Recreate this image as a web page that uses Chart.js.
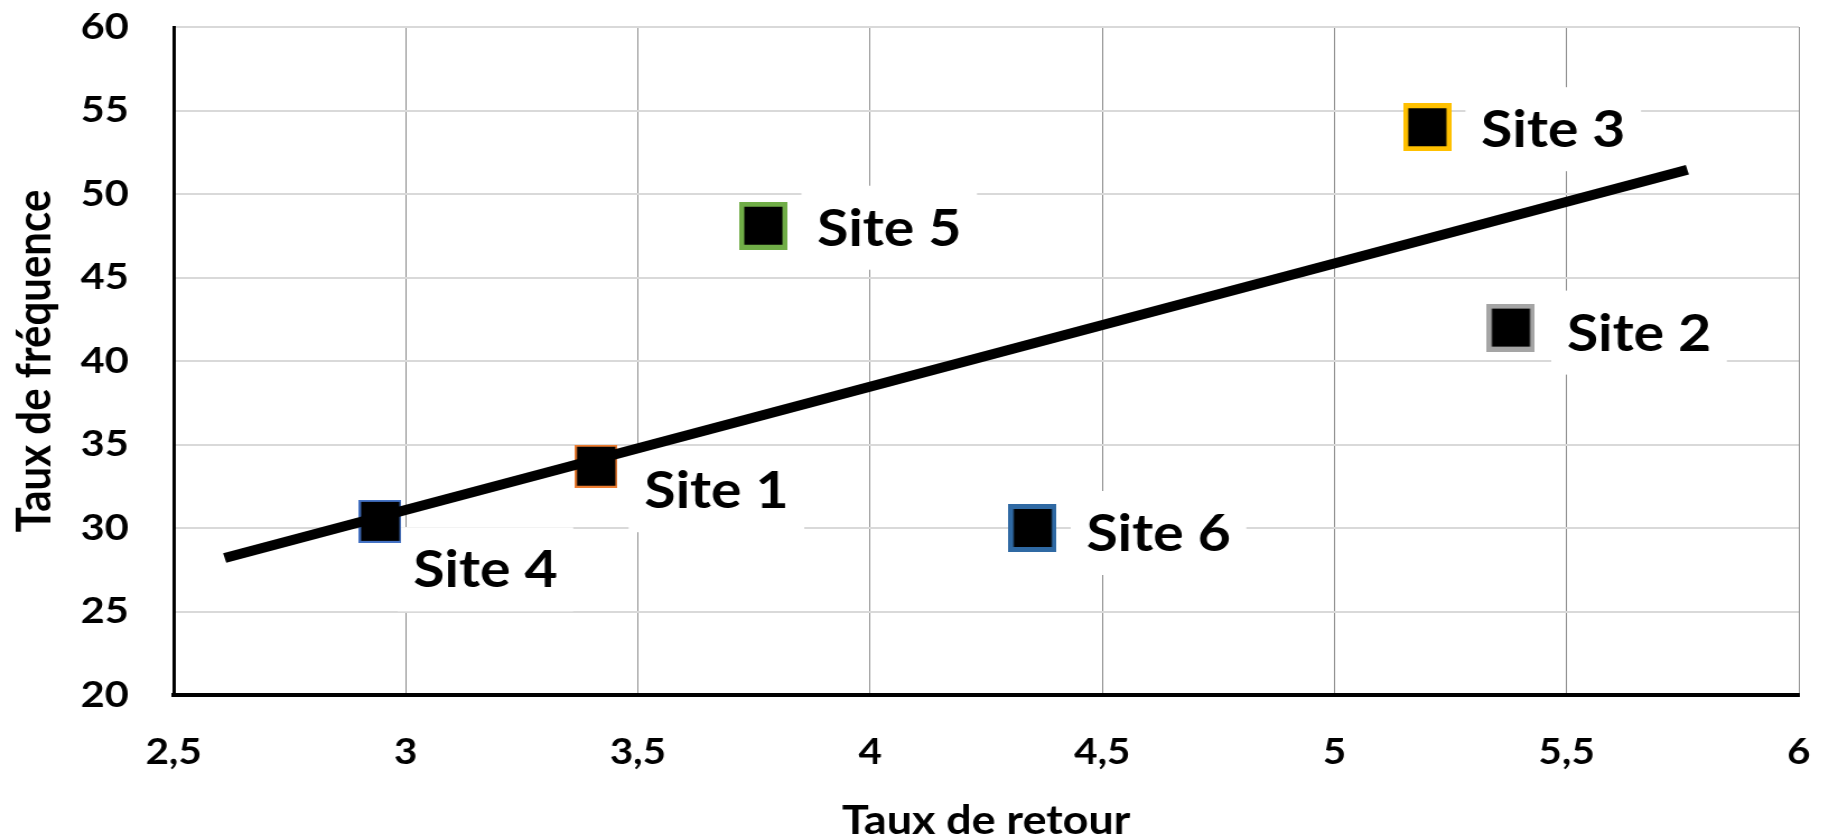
<!DOCTYPE html>
<html>
<head>
<meta charset="utf-8">
<script src="https://cdn.jsdelivr.net/npm/chart.js@4"></script>
<style>
  html, body { margin: 0; padding: 0; background: #fff; }
  /* the reference is stretched sideways, so the canvas is drawn narrower and widened by CSS */
  #chart { display: block; width: 1838px !important; height: 838px !important; }
</style>
</head>
<body>
<canvas id="chart" width="1641" height="838"></canvas>
<script>
const STRETCH = 1838 / 1641

// data
const sites = ['Site 1', 'Site 2', 'Site 3', 'Site 4', 'Site 5', 'Site 6']
const tauxRetour = [3.41, 5.38, 5.2, 2.945, 3.77, 4.35]
const tauxFrequence = [33.7, 42.0, 54.0, 30.4, 48.1, 30.0]
const trendRetour = [2.61, 5.76]
const trendFrequence = [28.2, 51.45]
const xTickLabels = ['2,5', '3', '3,5', '4', '4,5', '5', '5,5', '6']
const yTickLabels = ['20', '25', '30', '35', '40', '45', '50', '55', '60']

// styles
const markerColors = ['#ED7D31', '#A5A5A5', '#FFC000', '#4472C4', '#70AD47', '#2F69A3']
const markerBorders = [2, 5, 5, 2, 5, 5]
const markerSizes = [43, 48, 48, 43, 48, 48]
// label offset from the point: [dx to text start, dy to text middle]
const labelOffsets = [[43, 24], [50, 5], [48, 2], [29.5, 48], [48, 2], [48, 5]]

const makeMarker = (color, border, size) => {
  const c = document.createElement('canvas')
  c.width = Math.round(size / STRETCH)
  c.height = size
  const g = c.getContext('2d')
  g.fillStyle = color
  g.fillRect(0, 0, c.width, c.height)
  const bx = border / STRETCH
  g.fillStyle = '#000'
  g.fillRect(bx, border, c.width - 2 * bx, c.height - 2 * border)
  return c
}

const siteLabels = {
  id: 'siteLabels',
  beforeDatasetsDraw (chart) {
    const { ctx } = chart
    const meta = chart.getDatasetMeta(1)
    ctx.save()
    ctx.font = 'bold 51px Lato'
    ctx.textBaseline = 'alphabetic'
    ctx.textAlign = 'left'
    meta.data.forEach((pt, i) => {
      const [dx, dy] = labelOffsets[i]
      const x = pt.x + dx
      const cy = pt.y + dy
      const w = ctx.measureText(sites[i]).width
      ctx.fillStyle = '#fff'
      ctx.fillRect(x - 14, cy - 42, w + 28, 84)
      ctx.fillStyle = '#000'
      ctx.fillText(sites[i], x, cy + 18)
    })
    ctx.restore()
  }
}

const draw = () => {
  const canvas = document.getElementById('chart')
  new Chart(canvas, {
    type: 'scatter',
    data: {
      datasets: [
        {
          type: 'line',
          data: trendRetour.map((x, i) => ({ x, y: trendFrequence[i] })),
          borderColor: '#000',
          borderWidth: 10,
          borderCapStyle: 'butt',
          pointRadius: 0,
          fill: false
        },
        {
          data: tauxRetour.map((x, i) => ({ x, y: tauxFrequence[i] })),
          pointStyle: sites.map((s, i) => makeMarker(markerColors[i], markerBorders[i], markerSizes[i])),
          pointRadius: 20,
          showLine: false
        }
      ]
    },
    options: {
      responsive: false,
      devicePixelRatio: 1,
      animation: false,
      layout: { padding: { top: 27, right: 35, bottom: 0, left: 0 } },
      plugins: { legend: { display: false }, tooltip: { enabled: false } },
      scales: {
        x: {
          type: 'linear',
          min: 2.5,
          max: 6,
          afterFit: (scale) => {
            scale.height = 143
            scale.paddingLeft = 0
            scale.paddingRight = 0
          },
          ticks: {
            stepSize: 0.5,
            padding: 36,
            color: '#000',
            font: { family: 'Lato', size: 36, weight: 'bold' },
            callback: (v, i) => xTickLabels[i]
          },
          grid: { color: '#8c8c8c', lineWidth: 1, drawTicks: false },
          border: { color: '#000', width: 4 },
          title: {
            display: true,
            text: 'Taux de retour',
            color: '#000',
            font: { family: 'Lato', size: 40, weight: 'bold', lineHeight: 0.85 },
            padding: { top: 0, bottom: 0 }
          }
        },
        y: {
          min: 20,
          max: 60,
          afterFit: (scale) => {
            scale.width = 155
            scale.paddingTop = 0
            scale.paddingBottom = 0
          },
          ticks: {
            stepSize: 5,
            padding: 40,
            color: '#000',
            font: { family: 'Lato', size: 37, weight: 'bold' },
            callback: (v, i) => yTickLabels[i]
          },
          grid: { color: '#d9d9d9', lineWidth: 2, drawTicks: false },
          border: { color: '#000', width: 3 },
          title: {
            display: true,
            text: 'Taux de fréquence',
            color: '#000',
            font: { family: 'Lato', size: 42, weight: 'bold', lineHeight: 1 },
            padding: { top: 10, bottom: 0 }
          }
        }
      }
    },
    plugins: [siteLabels]
  })
}

document.fonts.load('bold 40px Lato').then(draw, draw)
</script>
</body>
</html>
